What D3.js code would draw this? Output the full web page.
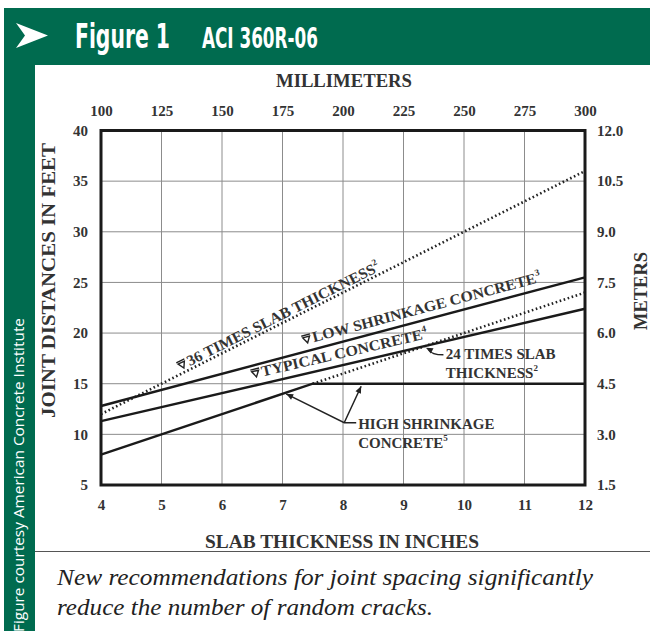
<!DOCTYPE html>
<html>
<head>
<meta charset="utf-8">
<script src="https://cdn.jsdelivr.net/npm/d3@7"></script>
<style>
  html, body { margin: 0; padding: 0; background: #fff; }
  svg { display: block; }
  .serif { font-family: "Liberation Serif", "Times New Roman", Times, serif; }
  .narrow { font-family: "Liberation Sans Narrow", "Arial Narrow", "DejaVu Sans Condensed", sans-serif; }
  .sans { font-family: "Open Sans", "Liberation Sans", sans-serif; }
</style>
</head>
<body>
<svg id="chart" width="650" height="631"></svg>
<script>
// ---- data ----
const inchTicks = [4, 5, 6, 7, 8, 9, 10, 11, 12];
const feetTicks = [5, 10, 15, 20, 25, 30, 35, 40];
const mmTicks = [100, 125, 150, 175, 200, 225, 250, 275, 300];
const meterTicks = ["1.5", "3.0", "4.5", "6.0", "7.5", "9.0", "10.5", "12.0"];

const times36X = [4, 12];
const times36Y = [12, 36];
const lowX = [4, 12];
const lowY = [12.8, 25.5];
const typicalX = [4, 12];
const typicalY = [11.3, 22.4];
const highX = [4, 7.5, 12];
const highY = [8, 15, 15];
const times24X = [7.5, 12];
const times24Y = [15, 24];

// ---- layout ----
const svg = d3.select("#chart");
const green = "#006b4f";

const L = 101, R = 585, T = 130.5, B = 485;
const x = d3.scaleLinear().domain([4, 12]).range([L, R]);
const y = d3.scaleLinear().domain([5, 40]).range([B, T]);
const xmm = d3.scaleLinear().domain([100, 300]).range([L, R]);
const ym = d3.scaleLinear().domain([1.5, 12]).range([B, T]);

// frame / header
svg.append("rect").attr("x", 0).attr("y", 0).attr("width", 650).attr("height", 631).attr("fill", "#fff");
svg.append("rect").attr("x", 4).attr("y", 8).attr("width", 646).attr("height", 57).attr("fill", green);
svg.append("rect").attr("x", 4).attr("y", 8).attr("width", 31).attr("height", 623).attr("fill", green);
svg.append("path").attr("d", "M16,23 L48,35.5 L16,48 L25,35.5 Z").attr("fill", "#fff");

function fitText(txt, x0, y0, size, width) {
  const t = svg.append("text").attr("class", "narrow").attr("fill", "#fff")
    .attr("font-weight", "bold").attr("font-size", size).text(txt);
  const w = t.node().getComputedTextLength() || width;
  t.attr("transform", `translate(${x0},${y0}) scale(${width / w},1)`);
  return t;
}
fitText("Figure 1", 75, 48, 34, 95);
fitText("ACI 360R-06", 202, 48, 28, 116);

svg.append("text").attr("class", "sans").attr("transform", "translate(24,632) rotate(-90)").attr("fill", "#fff")
  .attr("font-size", 15)
  .attr("textLength", 314).attr("lengthAdjust", "spacingAndGlyphs")
  .text("Figure courtesy American Concrete Institute");

// separator + caption
svg.append("line").attr("x1", 35).attr("x2", 650).attr("y1", 551.5).attr("y2", 551.5)
  .attr("stroke", "#555").attr("stroke-width", 1.2);
const cap = svg.append("g").attr("class", "serif").attr("font-style", "italic")
  .attr("font-size", 23).attr("fill", "#222");
cap.append("text").attr("x", 57).attr("y", 585).attr("textLength", 536)
  .attr("lengthAdjust", "spacingAndGlyphs").text("New recommendations for joint spacing significantly");
cap.append("text").attr("x", 57).attr("y", 615).attr("textLength", 376)
  .attr("lengthAdjust", "spacingAndGlyphs").text("reduce the number of random cracks.");

// grid
const grid = svg.append("g").attr("stroke", "#8c8c8c").attr("stroke-width", 1);
grid.selectAll("line.v").data(inchTicks.slice(1, -1)).join("line").attr("class", "v")
  .attr("x1", d => x(d)).attr("x2", d => x(d)).attr("y1", T).attr("y2", B);
grid.selectAll("line.h").data(feetTicks.slice(1, -1)).join("line").attr("class", "h")
  .attr("x1", L).attr("x2", R).attr("y1", d => y(d)).attr("y2", d => y(d));

// axes (labels only, no tick marks)
function styleAxis(g) {
  g.attr("font-family", null);
  g.select(".domain").remove();
  g.selectAll(".tick line").remove();
  g.selectAll(".tick text").attr("class", "serif").attr("font-weight", "bold")
    .attr("font-size", 15).attr("fill", "#333");
}
svg.append("g").attr("transform", `translate(0,${B})`)
  .call(d3.axisBottom(x).tickValues(inchTicks).tickSize(0).tickPadding(14))
  .call(styleAxis);
svg.append("g").attr("transform", `translate(0,${T})`)
  .call(d3.axisTop(xmm).tickValues(mmTicks).tickSize(0).tickPadding(15))
  .call(styleAxis);
svg.append("g").attr("transform", `translate(${L},0)`)
  .call(d3.axisLeft(y).tickValues(feetTicks).tickSize(0).tickPadding(13))
  .call(styleAxis);
svg.append("g").attr("transform", `translate(${R},0)`)
  .call(d3.axisRight(ym).tickValues(meterTicks.map(Number)).tickSize(0).tickPadding(12)
    .tickFormat((d, i) => meterTicks[i]))
  .call(styleAxis);

// axis titles
const tt = svg.append("g").attr("class", "serif").attr("font-weight", "bold")
  .attr("font-size", 18).attr("fill", "#333");
tt.append("text").attr("x", 276).attr("y", 87).attr("textLength", 136)
  .attr("lengthAdjust", "spacingAndGlyphs").text("MILLIMETERS");
tt.append("text").attr("x", 205).attr("y", 548).attr("textLength", 274)
  .attr("lengthAdjust", "spacingAndGlyphs").text("SLAB THICKNESS IN INCHES");
tt.append("text").attr("transform", "translate(55,418) rotate(-90)").attr("textLength", 275)
  .attr("lengthAdjust", "spacingAndGlyphs").text("JOINT DISTANCES IN FEET");
tt.append("text").attr("transform", "translate(647,330) rotate(-90)").attr("textLength", 78)
  .attr("lengthAdjust", "spacingAndGlyphs").text("METERS");

// series
const line = d3.line().x(d => x(d[0])).y(d => y(d[1]));
const zip = (a, b) => a.map((v, i) => [v, b[i]]);
const plot = svg.append("g").attr("fill", "none");
plot.append("path").datum(zip(times36X, times36Y)).attr("d", line)
  .attr("stroke", "#222").attr("stroke-width", 2.6).attr("stroke-dasharray", "1.6,2.6");
plot.append("path").datum(zip(times24X, times24Y)).attr("d", line)
  .attr("stroke", "#222").attr("stroke-width", 2.6).attr("stroke-dasharray", "1.6,2.6");
plot.append("path").datum(zip(lowX, lowY)).attr("d", line)
  .attr("stroke", "#1a1a1a").attr("stroke-width", 2.4);
plot.append("path").datum(zip(typicalX, typicalY)).attr("d", line)
  .attr("stroke", "#1a1a1a").attr("stroke-width", 2.4);
plot.append("path").datum(zip(highX, highY)).attr("d", line)
  .attr("stroke", "#1a1a1a").attr("stroke-width", 2.4);

// frame border
svg.append("rect").attr("x", L).attr("y", T).attr("width", R - L).attr("height", B - T)
  .attr("fill", "none").attr("stroke", "#1a1a1a").attr("stroke-width", 3);

// ---- annotations ----
const ann = svg.append("g").attr("class", "serif").attr("font-weight", "bold")
  .attr("font-size", 15).attr("fill", "#333");
function angleOf(xs, ys) {
  return Math.atan2(y(ys[1]) - y(ys[0]), x(xs[1]) - x(xs[0])) * 180 / Math.PI;
}
function along(xs, ys, t, lift, label, sup, len) {
  const f = ys[0] + (ys[1] - ys[0]) * (t - xs[0]) / (xs[1] - xs[0]);
  const g = ann.append("g")
    .attr("transform", `translate(${x(t)},${y(f)}) rotate(${angleOf(xs, ys)})`);
  // marker (small inverted triangle with bar)
  g.append("path").attr("d", `M-3.5,${-lift - 6} L3.5,${-lift - 6} L0,${-lift} Z M-4.5,${-lift - 8} L4.5,${-lift - 8}`)
    .attr("fill", "none").attr("stroke", "#222").attr("stroke-width", 1.4);
  const tx = g.append("text").attr("x", 6).attr("y", -lift + 1)
    .attr("textLength", len).attr("lengthAdjust", "spacingAndGlyphs");
  tx.append("tspan").text(label);
  tx.append("tspan").attr("font-size", 9).attr("dy", -7).text(sup);
}
along(times36X, times36Y, 5.4, 4, "36  TIMES  SLAB  THICKNESS", "2", 214);
along(lowX, lowY, 7.45, 8, "LOW  SHRINKAGE  CONCRETE", "3", 236);
along(typicalX, typicalY, 6.6, 8, "TYPICAL  CONCRETE", "4", 170);

// 24 times slab thickness
ann.append("text").attr("x", x(9.7)).attr("y", y(17.45)).text("24  TIMES  SLAB");
ann.append("text").attr("x", x(9.7)).attr("y", y(15.55))
  .call(s => { s.append("tspan").text("THICKNESS"); s.append("tspan").attr("font-size", 9).attr("dy", -7).text("2"); });
const arrowHead = (tipX, tipY, fromX, fromY) => {
  const a = Math.atan2(tipY - fromY, tipX - fromX);
  const s = 7, w = 3;
  const bx = tipX - s * Math.cos(a), by = tipY - s * Math.sin(a);
  return `M${tipX},${tipY} L${bx + w * Math.sin(a)},${by - w * Math.cos(a)} L${bx - w * Math.sin(a)},${by + w * Math.cos(a)} Z`;
};
{
  const sx = x(9.66), sy = y(17.85), ex = x(9.37), ey = y(18.55);
  ann.append("path").attr("d", `M${sx},${sy} Q${sx - 12},${sy} ${ex + 3},${ey + 2}`)
    .attr("fill", "none").attr("stroke", "#222").attr("stroke-width", 1.5);
  ann.append("path").attr("d", arrowHead(ex, ey, ex + 6, ey + 3)).attr("fill", "#222");
}

// high shrinkage concrete
ann.append("text").attr("x", x(8.25)).attr("y", y(10.55)).text("HIGH  SHRINKAGE");
ann.append("text").attr("x", x(8.25)).attr("y", y(8.65))
  .call(s => { s.append("tspan").text("CONCRETE"); s.append("tspan").attr("font-size", 9).attr("dy", -7).text("5"); });
{
  const ax = x(8.02), ay = y(11.15);
  const p1 = [x(7.06), y(14.0)], p2 = [x(8.3), y(14.75)];
  ann.append("path").attr("d", `M${ax + 12},${ay} L${ax},${ay} L${p1[0]},${p1[1]} M${ax},${ay} L${p2[0]},${p2[1]}`)
    .attr("fill", "none").attr("stroke", "#222").attr("stroke-width", 1.5);
  ann.append("path").attr("d", arrowHead(p1[0], p1[1], ax, ay)).attr("fill", "#222");
  ann.append("path").attr("d", arrowHead(p2[0], p2[1], ax, ay)).attr("fill", "#222");
}
</script>
</body>
</html>
